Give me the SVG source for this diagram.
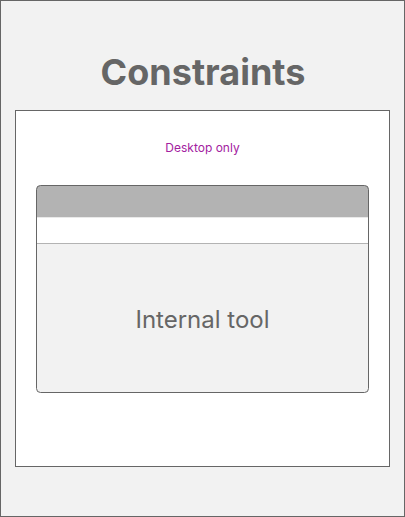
<svg xmlns="http://www.w3.org/2000/svg" width="405" height="517" viewBox="0 0 405 517">
<style>
.frame{stroke:#666666;stroke-width:1}
.t{font-family:Inter,"Liberation Sans",sans-serif;text-anchor:middle}
</style>
<g id="background">
<rect x="0.5" y="0.5" width="404" height="516" fill="#f2f2f2" class="frame"/>
</g>
<g id="title">
<text x="203" y="85" class="t" font-size="36" font-weight="bold" fill="#666666">Constraints</text>
</g>
<g id="panel">
<rect x="15.5" y="110.5" width="374" height="356" fill="#ffffff" class="frame"/>
<text x="202.5" y="152" class="t" font-size="12" fill="#a3219f">Desktop only</text>
</g>
<g id="card">
<rect x="36.5" y="185.5" width="332" height="207" rx="4" fill="#f2f2f2"/>
<path d="M36.5 217.5 V189.5 A4 4 0 0 1 40.5 185.5 H364.5 A4 4 0 0 1 368.5 189.5 V217.5 Z" fill="#b3b3b3"/>
<rect x="37" y="217.5" width="331" height="26" fill="#ffffff"/>
<line x1="37" y1="243.5" x2="368" y2="243.5" stroke="#b3b3b3" stroke-width="1"/>
<rect x="36.5" y="185.5" width="332" height="207" rx="4" fill="none" class="frame"/>
<text x="202.5" y="328" class="t" font-size="24" fill="#666666">Internal tool</text>
</g>
<g id="connectors"/>
</svg>
